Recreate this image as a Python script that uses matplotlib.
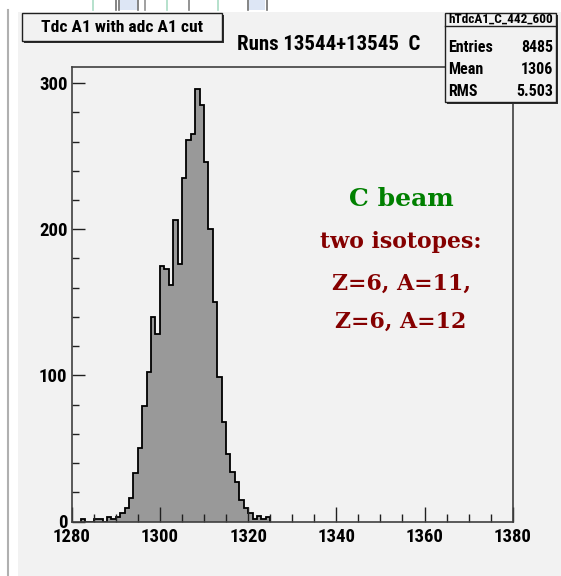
import matplotlib
matplotlib.use("Agg")
import matplotlib.pyplot as plt
from matplotlib import font_manager
from matplotlib.patches import Rectangle
from matplotlib.lines import Line2D
import numpy as np

# TDC channel counts, one per channel starting at FIRST_BIN
FIRST_BIN = 1282
counts = [2, 0, 0, 2, 2, 0, 3, 2, 3, 6, 9, 16, 33, 50, 79, 102, 140, 128,
          175, 173, 162, 206, 176, 235, 261, 265, 296, 285, 246, 200, 150,
          99, 68, 46, 34, 27, 15, 9, 6, 2, 4, 2, 3]
x_range = (1280, 1380)
y_max = 311
x_major = [1280, 1300, 1320, 1340, 1360, 1380]
y_major = [0, 100, 200, 300]

title = "Tdc A1 with adc A1 cut"
subtitle = "Runs 13544+13545  C"
stats_name = "hTdcA1_C_442_600"
stats_rows = [("Entries", "8485"), ("Mean", "1306"), ("RMS", "5.503")]
note_lines = ["two isotopes:", "Z=6, A=11,", "Z=6, A=12"]

W, H = 561, 576
PANEL = "#f2f2f2"

ROOT_FONT = dict(family="DejaVu Sans", stretch="condensed")
names = {f.name for f in font_manager.fontManager.ttflist}
for cand in ["Liberation Sans Narrow", "Roboto Condensed", "Noto Sans Condensed",
             "Open Sans Condensed"]:
    if cand in names:
        ROOT_FONT = dict(family=cand)
        break


def fx(x):
    return x / W


def fy(y):
    return 1 - y / H


def box(fig, x0, y0, x1, y1):
    # ROOT style pave with a drop shadow
    fig.patches.append(Rectangle((fx(x0 + 2), fy(y1 + 2)), fx(x1 - x0), (y1 - y0) / H,
                                 transform=fig.transFigure, facecolor="#303030",
                                 edgecolor="none", zorder=1))
    fig.patches.append(Rectangle((fx(x0), fy(y1)), fx(x1 - x0), (y1 - y0) / H,
                                 transform=fig.transFigure, facecolor=PANEL,
                                 edgecolor="#202020", lw=1.0, zorder=2))


def main():
    fig = plt.figure(figsize=(W / 100, H / 100), dpi=100, facecolor="white")

    # canvas background and window border
    fig.patches.append(Rectangle((fx(18), 0), fx(W - 18), fy(12), transform=fig.transFigure,
                                 facecolor=PANEL, edgecolor="none", zorder=-5))
    fig.lines.append(Line2D([fx(8), fx(8)], [0, fy(10)], transform=fig.transFigure,
                            color="#b0b0b0", lw=1.5))
    # bits of the toolbar above the canvas
    fig.patches.append(Rectangle((fx(120), fy(10)), fx(17), 10 / H, transform=fig.transFigure,
                                 facecolor="#dde6f5", edgecolor="none"))
    fig.patches.append(Rectangle((fx(249), fy(10)), fx(16), 10 / H, transform=fig.transFigure,
                                 facecolor="#dde6f5", edgecolor="none"))
    for xp, c in [(93, "#a9dcc4"), (116, "#707070"), (119, "#707070"), (138, "#707070"),
                  (145, "#909090"), (167, "#a9dcc4"), (189, "#808080"), (218, "#a9dcc4"),
                  (248, "#707070"), (267, "#707070")]:
        fig.lines.append(Line2D([fx(xp), fx(xp)], [fy(10), 1], transform=fig.transFigure,
                                color=c, lw=1.2))

    ax = fig.add_axes([fx(71.7), fy(521.5), fx(512.7 - 71.7), (521.5 - 67) / H])
    ax.set_facecolor(PANEL)

    edges = np.arange(FIRST_BIN, FIRST_BIN + len(counts) + 1)
    ax.stairs(counts, edges, fill=True, color="#999999", lw=0)
    ax.stairs(counts, edges, fill=False, color="black", lw=1.3)

    ax.set_xlim(*x_range)
    ax.set_ylim(0, y_max)
    ax.set_xticks(x_major)
    ax.set_xticks(np.arange(x_range[0], x_range[1] + 1, 5), minor=True)
    ax.set_yticks(y_major)
    ax.set_yticks(np.arange(0, y_max, 20), minor=True)
    ax.tick_params(axis="x", which="major", direction="in", length=11, width=1, pad=5,
                   color="#202020")
    ax.tick_params(axis="x", which="minor", direction="in", length=6, width=1, color="#202020")
    ax.tick_params(axis="y", which="major", direction="in", length=9.5, width=1, pad=3,
                   color="#202020")
    ax.tick_params(axis="y", which="minor", direction="in", length=5, width=1, color="#202020")
    for lab in ax.get_xticklabels() + ax.get_yticklabels():
        lab.set_fontproperties(font_manager.FontProperties(size=13.5, weight="bold", **ROOT_FONT))
    for sp in ax.spines.values():
        sp.set_color("#404040")
        sp.set_linewidth(1.2)

    # title pave
    box(fig, 22, 13, 222, 41)
    fig.text(fx(122), fy(27), title, ha="center", va="center", fontsize=12.6,
             weight="bold", zorder=3, **ROOT_FONT)
    fig.text(fx(237), fy(45), subtitle, ha="left", va="center", fontsize=15,
             weight="bold", **ROOT_FONT)

    # stats pave
    box(fig, 445, 13, 556, 102)
    fig.lines.append(Line2D([fx(445), fx(556)], [fy(26), fy(26)], transform=fig.transFigure,
                            color="#202020", lw=1.0, zorder=3))
    fig.text(fx(500.5), fy(19.5), stats_name, ha="center", va="center", fontsize=9.5,
             weight="bold", zorder=3, **ROOT_FONT)
    for i, (k, v) in enumerate(stats_rows):
        yy = 48 + i * 22
        fig.text(fx(448), fy(yy), k, ha="left", va="center", fontsize=11.5,
                 weight="bold", zorder=3, **ROOT_FONT)
        fig.text(fx(553), fy(yy), v, ha="right", va="center", fontsize=11.5,
                 weight="bold", zorder=3, **ROOT_FONT)

    # annotation
    fig.text(fx(401), fy(206), "C beam", ha="center", va="baseline", color="#008000",
             fontsize=18, weight="bold", family="DejaVu Serif")
    for txt, yb in zip(note_lines, [248, 290, 328]):
        fig.text(fx(401), fy(yb), txt, ha="center", va="baseline", color="#850000",
                 fontsize=15.8, weight="bold", family="DejaVu Serif")

    fig.savefig("out.png", dpi=100, facecolor="white")


if __name__ == "__main__":
    main()
